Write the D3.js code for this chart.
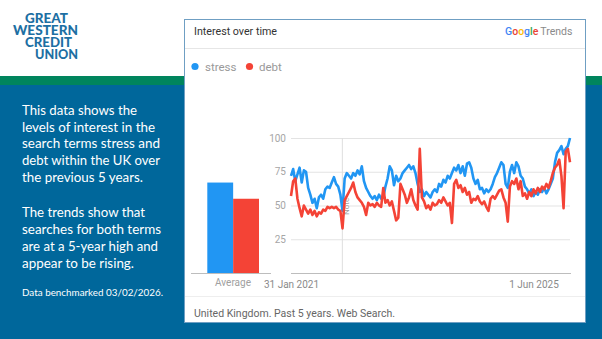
<!DOCTYPE html>
<html><head><meta charset="utf-8">
<script src="https://cdn.jsdelivr.net/npm/d3@7"></script>
<style>html,body{margin:0;padding:0;background:#fff;} svg{display:block}</style>
</head><body>
<svg id="c" width="602" height="339"></svg>
<script>
// ---------------- data ----------------
const seriesNames = ["stress", "debt"];
const seriesColors = ["#2196f3", "#f44336"];
const averages = [67, 55];
const startDate = "2021-01-31";   // first point; points every 2 weeks
const stressValues = [
72,77,68,73,78,67,76,75,63,58,52,55,48,56,58,55,62,64,63,67,
71,66,64,58,46,70,74,72,70,74,72,76,73,79,68,63,60,57,55,57,
54,58,55,56,64,70,79,76,65,72,68,70,74,76,78,80,77,79,74,66,
60,62,57,60,58,56,60,62,60,66,64,69,67,72,70,74,78,76,80,74,
79,72,81,82,78,70,66,69,62,63,59,62,60,62,66,71,74,78,82,80,
66,63,75,80,74,82,79,72,70,64,62,59,62,57,60,58,62,60,63,59,
62,66,70,82,89,91,94,88,92,94,100];
const debtValues = [
57,68,70,55,48,42,50,47,44,47,43,46,42,45,44,47,46,49,48,49,
48,49,47,46,33,54,57,60,63,67,60,56,54,52,49,43,52,50,51,49,
52,50,49,63,52,54,50,53,46,39,41,66,62,58,52,56,62,54,50,47,
92,56,53,48,50,47,52,50,51,54,52,56,53,50,52,37,66,69,63,65,
60,63,58,60,52,55,54,57,53,51,53,49,46,55,57,55,58,61,62,56,
52,38,64,68,66,70,62,68,57,59,55,60,57,62,59,63,60,64,62,66,
63,68,74,78,80,84,72,48,90,92,82];
const yTicks = [25, 50, 75, 100];
const xTickLabels = ["31 Jan 2021", "1 Jun 2025"];
const xTickDates = ["2021-01-31", "2025-06-01"];
const noteDate = "2022-01-01";
const logoLines = ["GREAT", "WESTERN", "CREDIT", "UNION"];
const leftPara1 = ["This data shows the", "levels of interest in the", "search terms stress and", "debt within the UK over", "the previous 5 years."];
const leftPara2 = ["The trends show that", "searches for both terms", "are at a 5-year high and", "appear to be rising."];
const benchmarkText = "Data benchmarked 03/02/2026.";

// ---------------- drawing ----------------
const svg = d3.select("#c");
const parse = d3.timeParse("%Y-%m-%d");
const d0 = parse(startDate);
const dates = stressValues.map((_, i) => d3.timeDay.offset(d0, i * 14));

// background
svg.append("rect").attr("x",0).attr("y",0).attr("width",602).attr("height",339).attr("fill","#ffffff");
svg.append("rect").attr("x",0).attr("y",76).attr("width",602).attr("height",10).attr("fill","#00855d");
svg.append("rect").attr("x",0).attr("y",85).attr("width",602).attr("height",254).attr("fill","#00679b");

// logo (one text block, four lines)
const logo = svg.append("text").attr("fill","#1d6fa3").attr("font-family","Lato, 'Open Sans', sans-serif").attr("font-weight","900").attr("font-size","12.5px");
const logoPos = [[25,23,43],[13,35,65],[25,47,47],[35,59,43]];
logoLines.forEach((t,i)=>{
  const [x,y,w] = logoPos[i];
  logo.append("tspan").attr("x",x).attr("y",y).attr("textLength",w).attr("lengthAdjust","spacingAndGlyphs").text(t);
});

// left text
const lt = svg.append("g").attr("fill","#ffffff").attr("font-family","Lato, 'Open Sans', sans-serif").attr("font-size","14px");
const w1 = [115,133,138,138,121], w2 = [123,139,136,112];
leftPara1.forEach((t,i)=> lt.append("text").attr("x",22).attr("y",115+i*16.7).attr("textLength",w1[i]).attr("lengthAdjust","spacingAndGlyphs").text(t));
leftPara2.forEach((t,i)=> lt.append("text").attr("x",22).attr("y",217.3+i*16.8).attr("textLength",w2[i]).attr("lengthAdjust","spacingAndGlyphs").text(t));
lt.append("text").attr("x",22).attr("y",296).attr("font-size","10px").attr("textLength",141).attr("lengthAdjust","spacingAndGlyphs").text(benchmarkText);

// card
svg.append("rect").attr("x",184.5).attr("y",19.5).attr("width",401).attr("height",303).attr("fill","#fff").attr("stroke","#6f9fc3").attr("stroke-width",1);
svg.append("line").attr("x1",185).attr("x2",585).attr("y1",48.5).attr("y2",48.5).attr("stroke","#e6e6e6");
svg.append("line").attr("x1",185).attr("x2",585).attr("y1",296.5).attr("y2",296.5).attr("stroke","#eeeeee");

const font = "Roboto, 'Noto Sans', sans-serif";
svg.append("text").attr("x",194).attr("y",34.5).attr("font-family",font).attr("font-size","10.7px").attr("fill","#333").text("Interest over time");
// Google Trends mark
const gt = svg.append("text").attr("x",505).attr("y",35).attr("font-family",font).attr("font-size","10.5px");
const gcols = ["#4285f4","#ea4335","#fbbc05","#4285f4","#34a853","#ea4335"];
"Google".split("").forEach((ch,i)=> gt.append("tspan").attr("fill",gcols[i]).attr("font-weight","500").text(ch));
gt.append("tspan").attr("fill","#8a8a8a").attr("dx",2).text("Trends");

// legend
const lg = svg.append("g").attr("font-family",font).attr("font-size","11.5px").attr("fill","#999");
[[195,205],[249.5,259]].forEach(([cx,tx],i)=>{
  lg.append("circle").attr("cx",cx).attr("cy",66.5).attr("r",3.6).attr("fill",seriesColors[i]);
  lg.append("text").attr("x",tx).attr("y",70.5).text(seriesNames[i]);
});

// scales
const y = d3.scaleLinear().domain([0,100]).range([273,138]);
const x = d3.scaleTime().domain([dates[0], dates[dates.length-1]]).range([291,570]);
const xb = d3.scaleBand().domain(seriesNames).range([207.3,259]).padding(0);

// gridlines
const gy = d3.axisLeft(y).tickValues(yTicks).tickSize(-(570-291)).tickPadding(5);
const gAxis = svg.append("g").attr("transform","translate(291,0)").call(gy);
gAxis.select(".domain").remove();
gAxis.selectAll(".tick line").attr("stroke","#e3e3e3");
gAxis.selectAll(".tick text").attr("fill","#a6a6a6").attr("font-family",font).attr("font-size","10px");

// note line
const nx = x(parse(noteDate));
svg.append("line").attr("x1",nx).attr("x2",nx).attr("y1",138).attr("y2",273).attr("stroke","#dedede");
svg.append("text").attr("transform",`translate(${nx+7},${215}) rotate(-90)`).attr("font-family",font).attr("font-size","8px").attr("fill","#9e9e9e").text("Note");

// average bars
svg.append("g").selectAll("rect").data(averages).join("rect")
  .attr("x",(d,i)=>xb(seriesNames[i])).attr("width",xb.bandwidth())
  .attr("y",d=>y(d)).attr("height",d=>y(0)-y(d)).attr("fill",(d,i)=>seriesColors[i]);
svg.append("line").attr("x1",191).attr("x2",271).attr("y1",273.5).attr("y2",273.5).attr("stroke","#bdbdbd");
svg.append("text").attr("x",233).attr("y",286).attr("text-anchor","middle").attr("font-family",font).attr("font-size","10px").attr("fill","#a0a0a0").text("Average");

// x axis
svg.append("line").attr("x1",291).attr("x2",571).attr("y1",273.5).attr("y2",273.5).attr("stroke","#bdbdbd");
const xa = d3.axisBottom(x).tickValues(xTickDates.map(parse)).tickFormat((d,i)=>xTickLabels[i]).tickSize(0).tickPadding(8);
const xg = svg.append("g").attr("transform","translate(0,273)").call(xa);
xg.select(".domain").remove();
xg.selectAll(".tick text").attr("fill","#8a8a8a").attr("font-family",font).attr("font-size","10px");

// lines
const line = d3.line().x((d,i)=>x(dates[i])).y(d=>y(d)).curve(d3.curveLinear);
[stressValues, debtValues].forEach((vals,k)=>{
  svg.append("path").datum(vals).attr("d",line).attr("fill","none")
    .attr("stroke",seriesColors[k]).attr("stroke-width",2.6).attr("stroke-linejoin","round");
});

// footer
svg.append("text").attr("x",194).attr("y",317).attr("font-family",font).attr("font-size","10.5px").attr("fill","#666").text("United Kingdom. Past 5 years. Web Search.");
</script>
</body></html>
